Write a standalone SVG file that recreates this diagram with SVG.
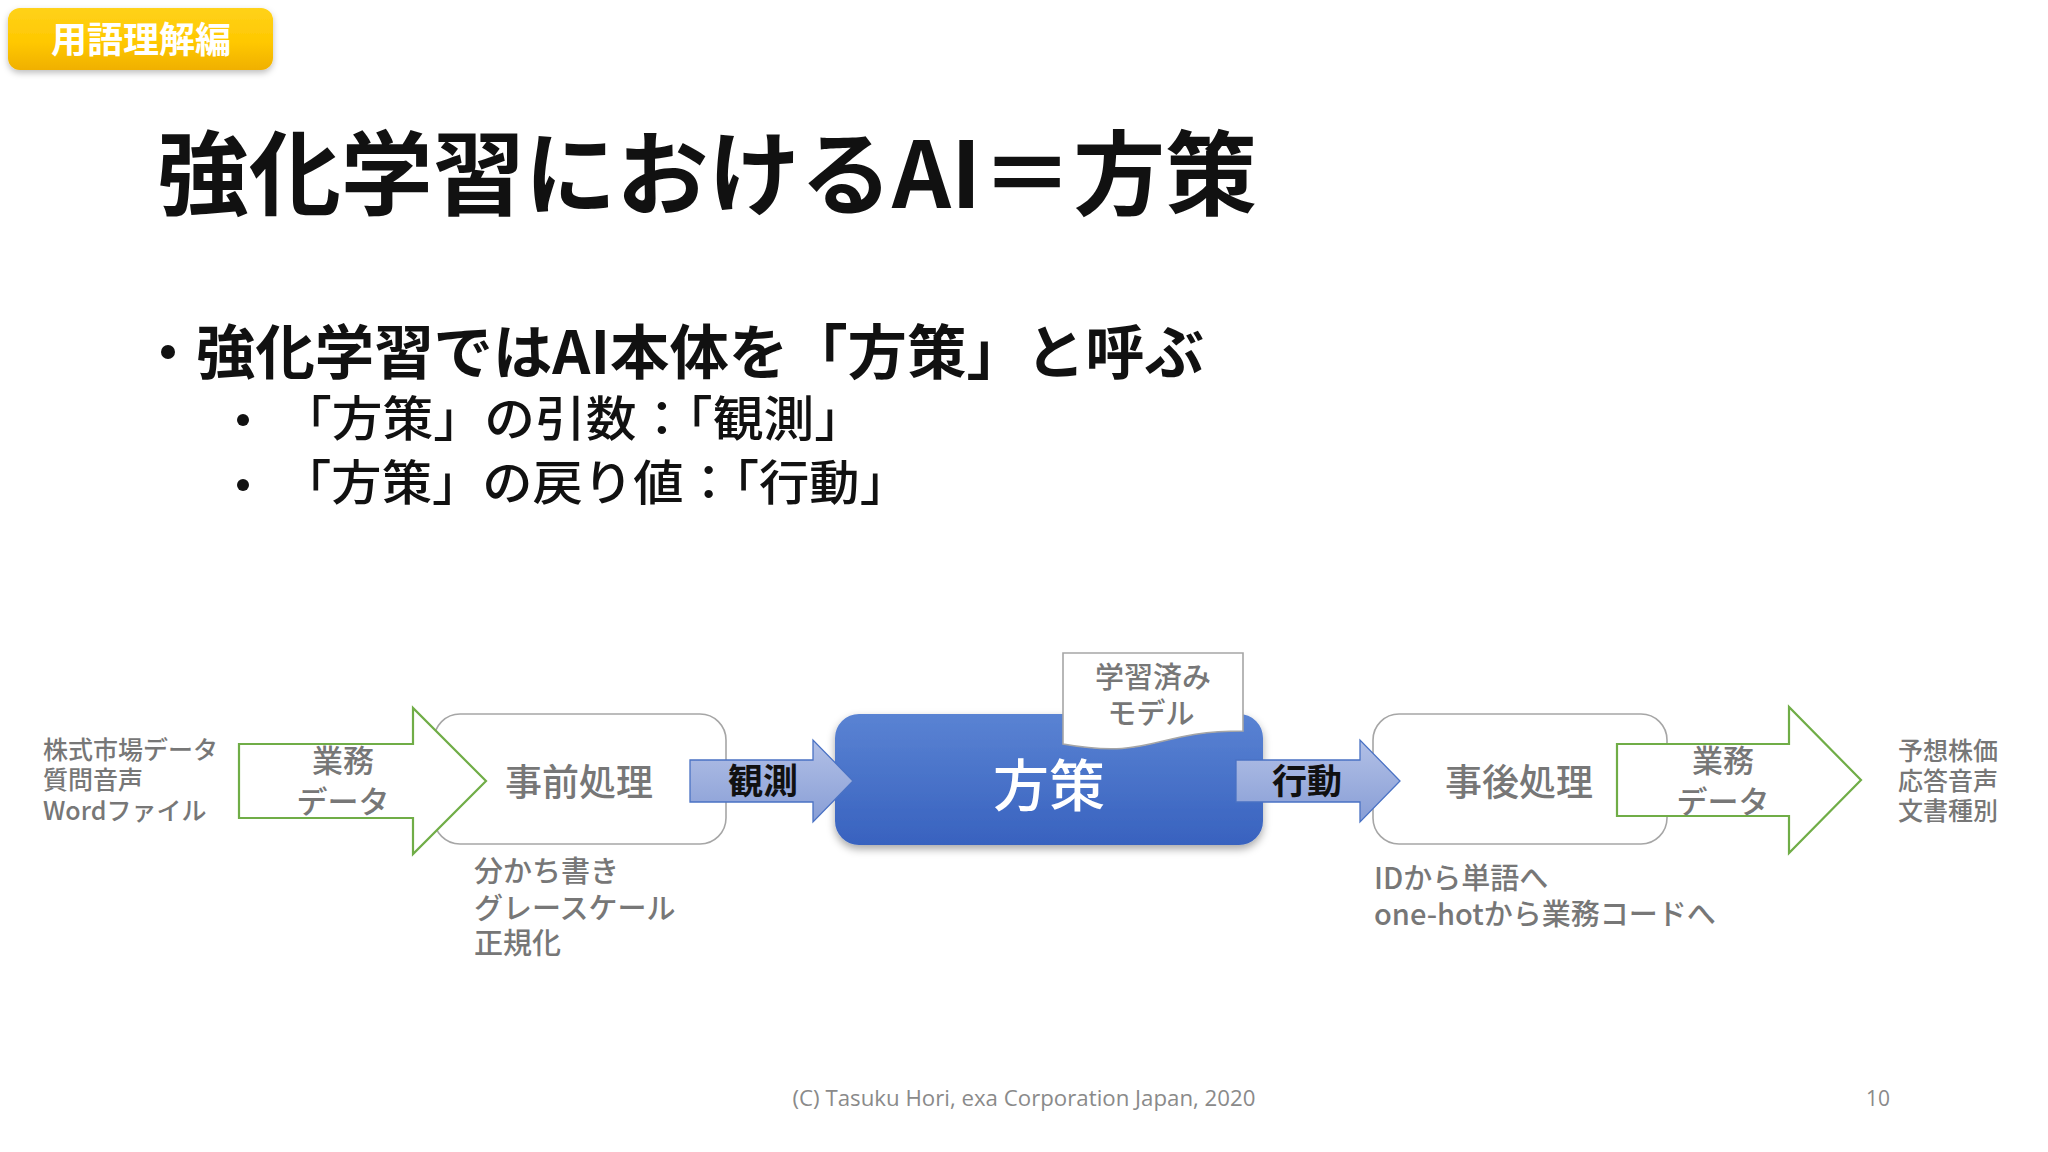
<svg xmlns="http://www.w3.org/2000/svg" width="2048" height="1152" viewBox="0 0 2048 1152">
<defs>
<linearGradient id="gBadge" x1="0" y1="0" x2="0" y2="1">
<stop offset="0" stop-color="#FFD21A"/>
<stop offset="0.55" stop-color="#FFC800"/>
<stop offset="1" stop-color="#F0B000"/>
</linearGradient>
<linearGradient id="gMain" x1="0" y1="0" x2="0" y2="1">
<stop offset="0" stop-color="#5A83D3"/>
<stop offset="1" stop-color="#3862BF"/>
</linearGradient>
<linearGradient id="gArrow" x1="0" y1="0" x2="0" y2="1">
<stop offset="0" stop-color="#B2C0E6"/>
<stop offset="1" stop-color="#889ED6"/>
</linearGradient>
<filter id="shadow" x="-10%" y="-20%" width="120%" height="150%">
<feDropShadow dx="0" dy="4" stdDeviation="4" flood-color="#000" flood-opacity="0.35"/>
</filter>
<filter id="shadowSoft" x="-10%" y="-20%" width="120%" height="150%">
<feDropShadow dx="0" dy="3" stdDeviation="3" flood-color="#000" flood-opacity="0.25"/>
</filter>
</defs>
<style>
.jp{font-family:"Noto Sans CJK JP","Noto Sans",sans-serif;}
.title{font-size:92px;font-weight:700;fill:#111;}
.b1{font-size:59px;font-weight:700;fill:#111;}
.b2{font-size:48px;font-weight:500;fill:#111;}
.dot{fill:#111;}
.box{fill:#fff;stroke:#A6A6A6;stroke-width:1.6;}
.green{fill:#fff;stroke:#70AD47;stroke-width:2.2;}
.blue{fill:url(#gArrow);stroke:#4A72C4;stroke-width:1.3;}
.gray{fill:#777;}
.small{font-size:25px;font-weight:500;}
.mid{font-size:29px;font-weight:500;}
.lbl{font-size:31px;font-weight:500;}
.big{font-size:37px;font-weight:500;}
.arrowTxt{font-size:35px;font-weight:700;fill:#111;}
.foot{font-family:"Open Sans","Liberation Sans",sans-serif;font-size:21px;fill:#8A8A8A;}
</style>
<rect width="2048" height="1152" fill="#fff"/>

<g id="badge">
<rect x="8" y="8" width="265" height="62" rx="12" fill="url(#gBadge)" filter="url(#shadowSoft)"/>
<text class="jp" x="141" y="53" font-size="36" font-weight="700" fill="#fff" text-anchor="middle">用語理解編</text>
</g>

<g id="title">
<text class="jp title" x="157" y="208" textLength="1100" lengthAdjust="spacingAndGlyphs">強化学習におけるAI＝方策</text>
</g>

<g id="bullets">
<circle class="dot" cx="168" cy="352" r="7"/>
<text class="jp b1" x="196" y="374" textLength="1008" lengthAdjust="spacingAndGlyphs">強化学習ではAI本体を「方策」と呼ぶ</text>
<circle class="dot" cx="243" cy="420" r="6"/>
<text class="jp b2" x="281" y="436" textLength="584" lengthAdjust="spacingAndGlyphs">「方策」の引数：「観測」</text>
<circle class="dot" cx="243" cy="485" r="6"/>
<text class="jp b2" x="281" y="500" textLength="629" lengthAdjust="spacingAndGlyphs">「方策」の戻り値：「行動」</text>
</g>

<g id="sources">
<text class="jp small gray" x="43" y="759"><tspan x="43">株式市場データ</tspan><tspan x="43" dy="30">質問音声</tspan><tspan x="43" dy="31">Wordファイル</tspan></text>
</g>

<g id="preprocess">
<rect class="box" x="434" y="714" width="292" height="130" rx="26"/>
<text class="jp big gray" x="579" y="796" text-anchor="middle">事前処理</text>
<text class="jp mid gray" x="474" y="882"><tspan x="474">分かち書き</tspan><tspan x="474" dy="37">グレースケール</tspan><tspan x="474" dy="35">正規化</tspan></text>
</g>

<g id="policy">
<rect x="835" y="714" width="428" height="131" rx="24" fill="url(#gMain)" filter="url(#shadow)"/>
<text class="jp" x="1049" y="806" font-size="56" font-weight="500" fill="#fff" text-anchor="middle">方策</text>
</g>

<g id="model">
<path class="box" d="M1063,653 H1243 V731 C1153,731 1153,760 1063,744 Z"/>
<text class="jp mid gray" text-anchor="middle"><tspan x="1153" y="688">学習済み</tspan><tspan x="1151" dy="36">モデル</tspan></text>
</g>

<g id="postprocess">
<rect class="box" x="1373" y="714" width="294" height="130" rx="26"/>
<text class="jp big gray" x="1519" y="796" text-anchor="middle">事後処理</text>
<text class="jp mid gray" x="1374" y="889"><tspan x="1374">IDから単語へ</tspan><tspan x="1374" dy="36">one-hotから業務コードへ</tspan></text>
</g>

<g id="outputs">
<text class="jp small gray" x="1898" y="760"><tspan x="1898">予想株価</tspan><tspan x="1898" dy="30">応答音声</tspan><tspan x="1898" dy="30">文書種別</tspan></text>
</g>

<g id="connectors">
<g id="arrow-input">
<path class="green" d="M239,744 H413 V708 L486,781 L413,854 V818 H239 Z"/>
<text class="jp lbl gray" text-anchor="middle"><tspan x="343" y="772">業務</tspan><tspan x="343" dy="41">データ</tspan></text>
</g>
<g id="arrow-observe">
<path class="blue" d="M690,760 H813 V740 L853,781 L813,822 V802 H690 Z"/>
<text class="jp arrowTxt" x="763" y="794" text-anchor="middle">観測</text>
</g>
<g id="arrow-action">
<path class="blue" d="M1236,760 H1360 V740 L1400,781 L1360,822 V802 H1236 Z"/>
<text class="jp arrowTxt" x="1307" y="794" text-anchor="middle">行動</text>
</g>
<g id="arrow-output">
<path class="green" d="M1617,744 H1789 V707 L1861,780 L1789,853 V816 H1617 Z"/>
<text class="jp lbl gray" text-anchor="middle"><tspan x="1723" y="772">業務</tspan><tspan x="1723" dy="41">データ</tspan></text>
</g>
</g>

<g id="footer">
<text class="foot" x="1024" y="1106" text-anchor="middle" textLength="463" lengthAdjust="spacingAndGlyphs">(C) Tasuku Hori, exa Corporation Japan, 2020</text>
<text class="foot" x="1878" y="1106" text-anchor="middle">10</text>
</g>
</svg>
